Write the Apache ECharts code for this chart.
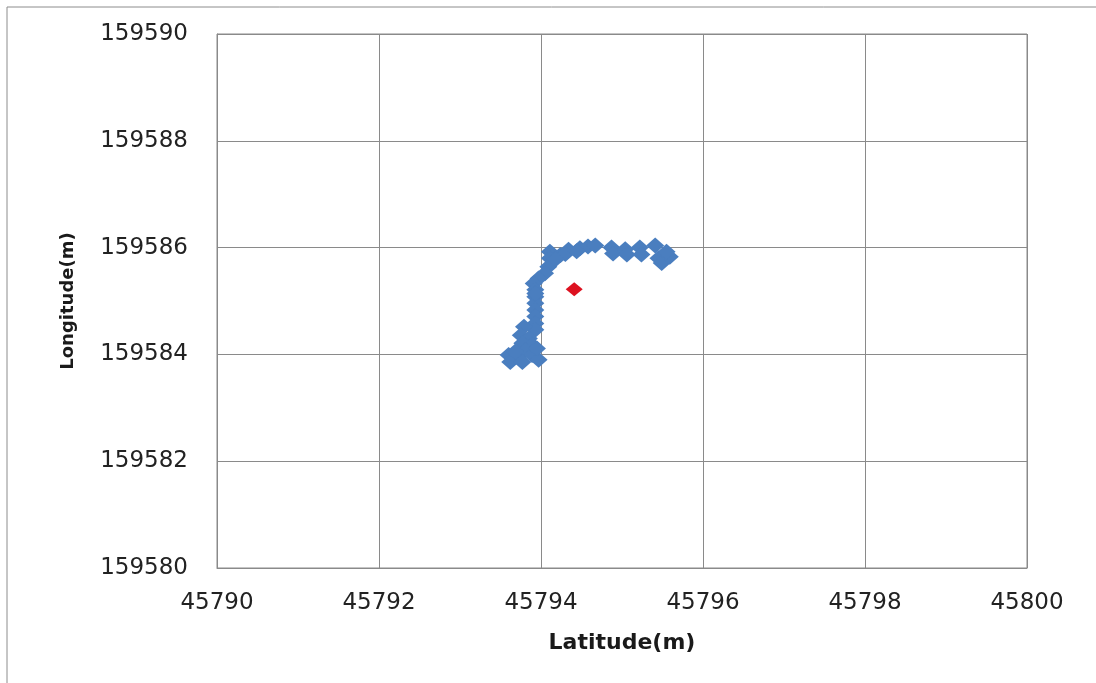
<!DOCTYPE html>
<html>
<head>
<meta charset="utf-8">
<script src="https://cdn.jsdelivr.net/npm/echarts@6/dist/echarts.min.js"></script>
<style>
html,body{margin:0;padding:0;background:#fff;}
#c{width:1096px;height:683px;}
</style>
</head>
<body>
<div id="c"></div>
<script>
const xTicks = [45790, 45792, 45794, 45796, 45798, 45800];
const yTicks = [159580, 159582, 159584, 159586, 159588, 159590];
const trackLat = [
  45794.24, 45794.34, 45794.48, 45794.58, 45794.67, 45794.87, 45794.89, 45795.04, 45795.06,
  45795.22, 45795.24, 45795.41, 45795.45, 45795.49, 45795.59, 45795.55, 45794.30, 45794.44,
  45794.11, 45794.11, 45794.09, 45794.05, 45793.97, 45793.91, 45794.18,
  45793.93, 45793.93, 45793.93, 45793.93, 45793.93, 45793.93, 45793.93, 45793.93,
  45793.79, 45793.75, 45793.85, 45793.77, 45793.89, 45793.81, 45793.60,
  45793.70, 45793.89, 45793.97, 45793.62, 45793.77, 45793.95, 45793.68
];
const trackLon = [
  159585.86, 159585.96, 159585.99, 159586.02, 159586.04, 159586.00, 159585.89, 159585.97, 159585.87,
  159586.00, 159585.87, 159586.04, 159585.80, 159585.71, 159585.83, 159585.92, 159585.88, 159585.93,
  159585.92, 159585.80, 159585.64, 159585.52, 159585.42, 159585.33, 159585.78,
  159585.21, 159585.08, 159584.96, 159584.83, 159584.71, 159584.58, 159584.46, 159585.14,
  159584.52, 159584.36, 159584.30, 159584.21, 159584.18, 159584.08, 159583.99,
  159583.96, 159583.99, 159583.90, 159583.86, 159583.86, 159584.11, 159584.05
];
const estLat = [45794.41];
const estLon = [159585.22];

const chart = echarts.init(document.getElementById('c'), null, {renderer: 'canvas'});
const font = 'DejaVu Sans';
chart.setOption({
  animation: false,
  backgroundColor: '#fff',
  graphic: [
    {type: 'line', shape: {x1: 7, y1: 7, x2: 1096, y2: 7}, style: {stroke: '#8c8c8c', lineWidth: 1}},
    {type: 'line', shape: {x1: 7, y1: 7, x2: 7, y2: 683}, style: {stroke: '#8c8c8c', lineWidth: 1}}
  ],
  grid: {left: 217, right: 69, top: 34, bottom: 115, show: true, borderColor: '#8a8a8a', borderWidth: 1},
  xAxis: {
    type: 'value', min: xTicks[0], max: xTicks[xTicks.length - 1], interval: 2,
    name: 'Latitude(m)', nameLocation: 'middle', nameGap: 64,
    nameTextStyle: {fontFamily: font, fontWeight: 'bold', fontSize: 22, color: '#1a1a1a'},
    axisLine: {show: true, lineStyle: {color: '#8a8a8a'}},
    axisTick: {show: false},
    axisLabel: {fontFamily: font, fontSize: 23, color: '#222', margin: 24, formatter: v => String(v)},
    splitLine: {show: true, lineStyle: {color: '#8a8a8a', width: 1}}
  },
  yAxis: {
    type: 'value', min: yTicks[0], max: yTicks[yTicks.length - 1], interval: 2,
    name: 'Longitude(m)', nameLocation: 'middle', nameGap: 140, nameRotate: 90,
    nameTextStyle: {fontFamily: font, fontWeight: 'bold', fontSize: 18, color: '#1a1a1a'},
    axisLine: {show: true, lineStyle: {color: '#8a8a8a'}},
    axisTick: {show: false},
    axisLabel: {fontFamily: font, fontSize: 23, color: '#222', margin: 29, formatter: v => String(v)},
    splitLine: {show: true, lineStyle: {color: '#8a8a8a', width: 1}}
  },
  series: [
    {
      type: 'scatter', symbol: 'diamond', symbolSize: [18, 16],
      itemStyle: {color: '#4a7ebf', opacity: 1},
      data: trackLat.map((v, i) => [v, trackLon[i]])
    },
    {
      type: 'scatter', symbol: 'diamond', symbolSize: [17, 14],
      itemStyle: {color: '#dd1120', opacity: 1},
      data: estLat.map((v, i) => [v, estLon[i]])
    }
  ]
});
</script>
</body>
</html>
